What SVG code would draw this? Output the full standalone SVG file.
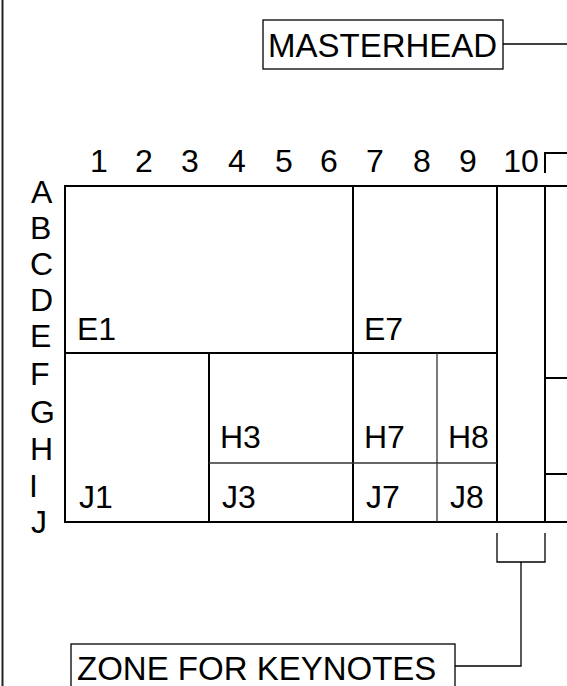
<svg xmlns="http://www.w3.org/2000/svg" width="567" height="686" viewBox="0 0 567 686">
<style>
text{font-family:"Liberation Sans",Arial,sans-serif;fill:#000}
.lbl{font-size:32px}
.big{font-size:33px}
.mid{text-anchor:middle}
.thick{stroke:#000;stroke-width:2;fill:none}
.thin{stroke:#333;stroke-width:1.3;fill:none}
.box{stroke:#000;stroke-width:1.3;fill:#fff}
.conn{stroke:#000;stroke-width:1.3;fill:none}
</style>
<rect width="567" height="686" fill="#fff"/>
<line x1="2.5" y1="0" x2="2.5" y2="686" stroke="#222" stroke-width="2"/>

<g id="masthead">
<rect class="box" x="263" y="20" width="240" height="49"/>
<text class="big" x="268" y="57">MASTERHEAD</text>
</g>

<g id="keynotes">
<rect class="box" x="71" y="644" width="384" height="46"/>
<text class="big" x="77" y="680">ZONE FOR KEYNOTES</text>
</g>

<g id="columns">
<text class="lbl mid" x="99" y="172">1</text>
<text class="lbl mid" x="144" y="172">2</text>
<text class="lbl mid" x="190" y="172">3</text>
<text class="lbl mid" x="237" y="172">4</text>
<text class="lbl mid" x="284" y="172">5</text>
<text class="lbl mid" x="329" y="172">6</text>
<text class="lbl mid" x="375" y="172">7</text>
<text class="lbl mid" x="422" y="172">8</text>
<text class="lbl mid" x="468" y="172">9</text>
<text class="lbl mid" x="521" y="172">10</text>
</g>

<g id="rows">
<text class="lbl" x="31" y="203">A</text>
<text class="lbl" x="30" y="239">B</text>
<text class="lbl" x="30" y="275">C</text>
<text class="lbl" x="30" y="311">D</text>
<text class="lbl" x="30" y="347">E</text>
<text class="lbl" x="30" y="385">F</text>
<text class="lbl" x="30" y="423">G</text>
<text class="lbl" x="30" y="460">H</text>
<text class="lbl" x="29" y="497">I</text>
<text class="lbl" x="31" y="533">J</text>
</g>

<g id="grid">
<polyline class="thick" points="567,186 65,186 65,522 567,522"/>
<line class="thick" x1="65" y1="353" x2="497" y2="353"/>
<line class="thick" x1="353" y1="186" x2="353" y2="522"/>
<line class="thick" x1="497" y1="186" x2="497" y2="522"/>
<line class="thick" x1="545" y1="186" x2="545" y2="522"/>
<line class="thick" x1="209" y1="353" x2="209" y2="522"/>
<line class="thin" x1="437" y1="353" x2="437" y2="522"/>
<line class="thin" x1="209" y1="463" x2="497" y2="463"/>
<line class="thick" x1="545" y1="378" x2="567" y2="378"/>
<line class="thick" x1="545" y1="474" x2="567" y2="474"/>
<polyline class="thick" points="545,173 545,153 567,153"/>
</g>

<g id="cells">
<text class="lbl" x="77" y="340">E1</text>
<text class="lbl" x="364" y="340">E7</text>
<text class="lbl" x="220" y="448">H3</text>
<text class="lbl" x="364" y="448">H7</text>
<text class="lbl" x="448" y="448">H8</text>
<text class="lbl" x="79" y="508">J1</text>
<text class="lbl" x="222" y="508">J3</text>
<text class="lbl" x="366" y="508">J7</text>
<text class="lbl" x="450" y="508">J8</text>
</g>

<g id="connectors">
<line class="conn" x1="503" y1="44" x2="567" y2="44"/>
<polyline class="conn" points="497,533 497,562 545,562 545,533" stroke-width="1.6"/>
<polyline class="conn" points="521,562 521,666 455,666"/>
</g>
</svg>
